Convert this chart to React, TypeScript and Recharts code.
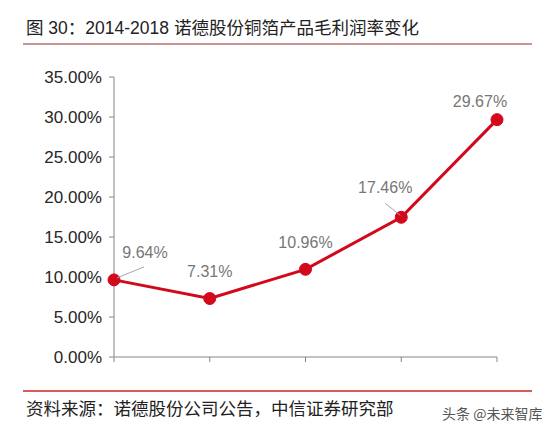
import React from 'react';
import { LineChart, Line, XAxis, YAxis, LabelList } from 'recharts';

const years = ['2014', '2015', '2016', '2017', '2018'];
const margins = [9.64, 7.31, 10.96, 17.46, 29.67];
const yTicks = [0, 5, 10, 15, 20, 25, 30, 35];

const data = years.map((y, i) => ({ year: y, margin: margins[i] }));

// label placement relative to each point: [dx, dy, leader?]
const labelOffsets: { dx: number; dy: number; leader?: [number, number, number, number] }[] = [
  { dx: 31, dy: -27, leader: [3, -2, 30, -13] },
  { dx: 0, dy: -27 },
  { dx: 0, dy: -27 },
  { dx: -16, dy: -30, leader: [-1, -2, -16, -14] },
  { dx: -17, dy: -18 },
];

const FONT = '"Liberation Sans", Arial, "Noto Sans CJK SC", sans-serif';
const MIXED = '"Liberation Sans", "Noto Sans CJK SC", sans-serif';
const CJK = '"Noto Sans CJK SC", "Liberation Sans", sans-serif';

const renderLabel = (props: any) => {
  const { x, y, value, index } = props;
  const o = labelOffsets[index];
  return (
    <g>
      {o.leader && (
        <line
          x1={x + o.leader[0]}
          y1={y + o.leader[1]}
          x2={x + o.leader[2]}
          y2={y + o.leader[3]}
          stroke="#a6a6a6"
          strokeWidth={1}
        />
      )}
      <text
        x={x + o.dx}
        y={y + o.dy}
        textAnchor="middle"
        dominantBaseline="central"
        fontSize={16}
        fill="#777777"
        fontFamily={FONT}
      >
        {Number(value).toFixed(2) + '%'}
      </text>
    </g>
  );
};

export default function App() {
  return (
    <div style={{ position: 'absolute', left: 0, top: 0, width: 556, height: 438, background: '#fff' }}>
      <div
        style={{
          position: 'absolute',
          left: 26,
          top: 17,
          fontFamily: MIXED,
          fontSize: 17.5,
          lineHeight: '22px',
          color: '#222',
          whiteSpace: 'nowrap',
        }}
      >
        图 30：2014-2018 诺德股份铜箔产品毛利润率变化
      </div>
      <div style={{ position: 'absolute', left: 23, top: 43, width: 509, height: 2, background: '#c99494' }} />
      <div style={{ position: 'absolute', left: 0, top: 0 }}>
        <LineChart
          width={556}
          height={438}
          data={data}
          margin={{ top: 77, right: 59, bottom: 71, left: 14 }}
        >
          <XAxis
            dataKey="year"
            scale="point"
            padding={{ left: 0, right: 0 }}
            height={10}
            stroke="#868686"
            tickLine={{ stroke: '#868686' }}
            tickSize={5}
            tick={() => <g />}
          />
          <YAxis
            width={100}
            domain={[0, 35]}
            ticks={yTicks}
            interval={0}
            stroke="#868686"
            tickSize={5}
            tickMargin={7}
            tickFormatter={(v: number) => v.toFixed(2) + '%'}
            tick={{ fontSize: 17, fill: '#262626', fontFamily: FONT }}
          />
          <Line
            dataKey="margin"
            stroke="#d2091b"
            strokeWidth={3}
            dot={{ r: 6, fill: '#d2091b', stroke: '#d2091b', strokeWidth: 1 }}
            isAnimationActive={false}
          >
            <LabelList dataKey="margin" content={renderLabel} />
          </Line>
        </LineChart>
      </div>
      <div style={{ position: 'absolute', left: 23, top: 390, width: 509, height: 1.5, background: '#d65c5c' }} />
      <div
        style={{
          position: 'absolute',
          left: 26,
          top: 397,
          fontFamily: CJK,
          fontSize: 17.5,
          lineHeight: '22px',
          color: '#222',
          whiteSpace: 'nowrap',
        }}
      >
        资料来源：诺德股份公司公告，中信证券研究部
      </div>
      <div
        style={{
          position: 'absolute',
          left: 442,
          top: 404,
          fontFamily: CJK,
          fontSize: 14,
          lineHeight: '18px',
          color: '#555',
          whiteSpace: 'nowrap',
        }}
      >
        头条 @未来智库
      </div>
    </div>
  );
}
